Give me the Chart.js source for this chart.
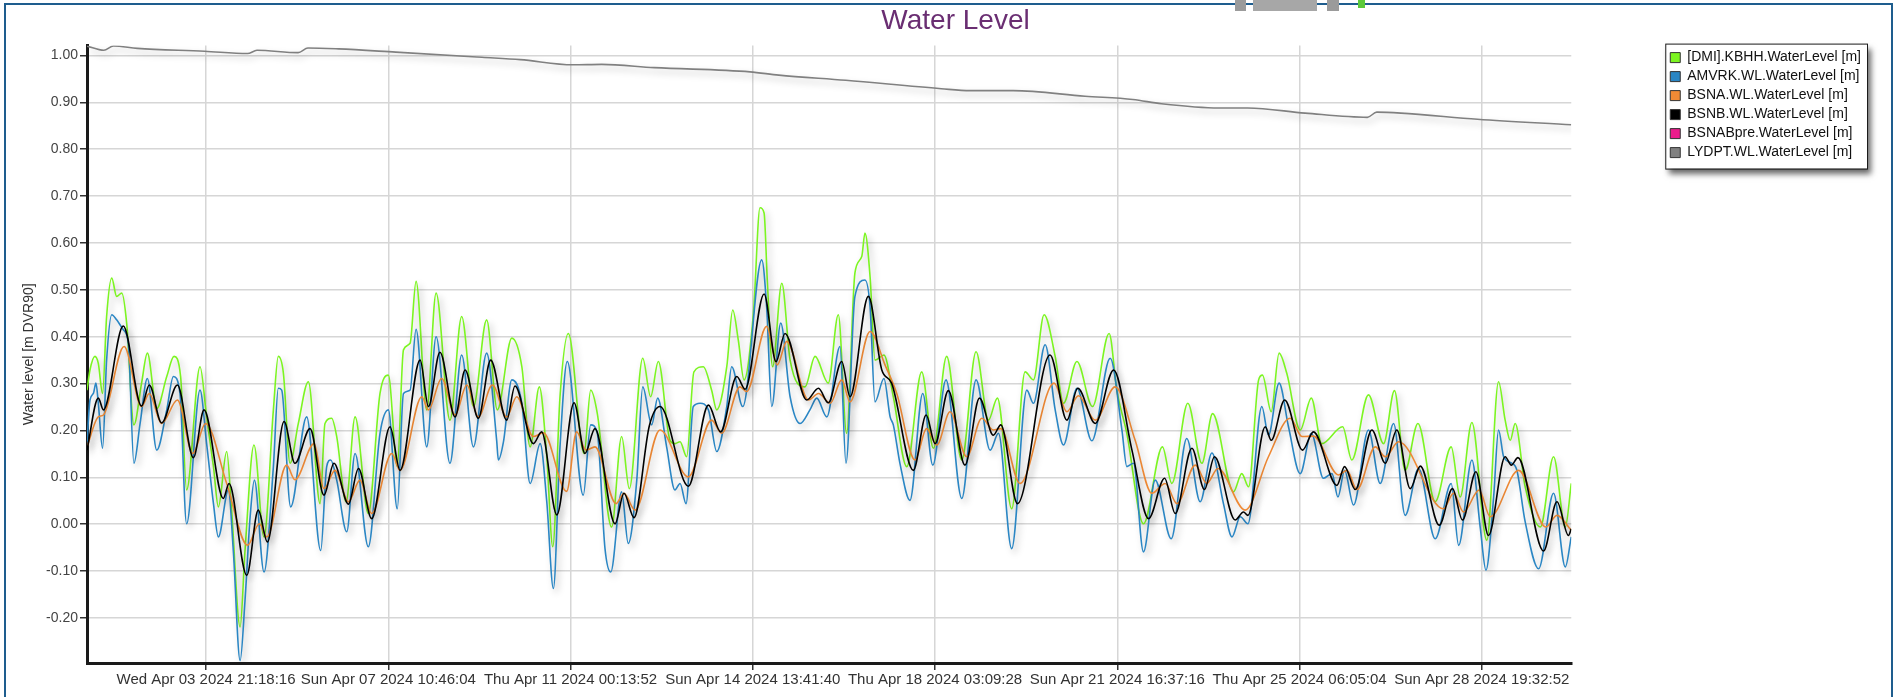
<!DOCTYPE html>
<html>
<head>
<meta charset="utf-8">
<title>Water Level</title>
<script src="https://cdn.jsdelivr.net/npm/chart.js@4.4.1/dist/chart.umd.min.js"></script>
<style>
  html, body { margin: 0; padding: 0; background: #fff; overflow: hidden; }
  #frame { position: absolute; left: 4px; top: 3px; width: 1885px; height: 720px; border: 2px solid #1e5d8e; border-bottom: none; }
  #wrap { position: absolute; left: 0; top: 0; width: 1897px; height: 697px; }
  .tab { position: absolute; top: 0; height: 11px; background: #9b9b9b; z-index: 2; }
</style>
</head>
<body>
<div id="frame"></div>
<div class="tab" style="left:1235px;width:11px"></div>
<div class="tab" style="left:1253px;width:64px;background:#a7a7a7"></div>
<div class="tab" style="left:1327px;width:12px"></div>
<div class="tab" style="left:1358px;width:7px;height:8px;background:#5cc93a"></div>
<div id="wrap"><canvas id="waterChart"></canvas></div>
<script>
// time axis: hours since 2024-04-01 00:00
const xTickHours = [69.3044, 154.7678, 240.2311, 325.6944, 411.1578, 496.6211, 582.0844, 667.5478];
const xTickLabels = [
  'Wed Apr 03 2024 21:18:16', 'Sun Apr 07 2024 10:46:04', 'Thu Apr 11 2024 00:13:52', 'Sun Apr 14 2024 13:41:40',
  'Thu Apr 18 2024 03:09:28', 'Sun Apr 21 2024 16:37:16', 'Thu Apr 25 2024 06:05:04', 'Sun Apr 28 2024 19:32:52'
];
const yTickValues = [-0.2, -0.1, 0, 0.1, 0.2, 0.3, 0.4, 0.5, 0.6, 0.7, 0.8, 0.9, 1.0];

const seriesNames = ['[DMI].KBHH.WaterLevel [m]', 'AMVRK.WL.WaterLevel [m]', 'BSNA.WL.WaterLevel [m]',
  'BSNB.WL.WaterLevel [m]', 'BSNABpre.WaterLevel [m]', 'LYDPT.WL.WaterLevel [m]'];
const seriesColors = ['#7cf521', '#2a86c4', '#f08a35', '#000000', '#ec1c8c', '#808080'];

const kbhhHours = [
  13.5, 14.9, 17.2, 18.8, 20.8, 22.7, 25.1, 27.4, 29.8, 32.1,
  35.5, 39.1, 41.8, 46.2, 50.9, 54.3, 57.4, 60.2, 66.5, 69.6,
  72.8, 75.1, 79.0, 81.3, 85.3, 87.6, 91.8, 96.5, 100.9, 103.2,
  105.6, 108.7, 112.6, 117.3, 122.8, 125.1, 128.2, 130.6, 135.0, 139.2,
  145.4, 150.9, 154.8, 159.0, 161.9, 165.0, 167.8, 172.8, 177.2, 183.7,
  189.2, 194.7, 200.9, 205.9, 212.7, 217.4, 221.3, 225.6, 229.1, 231.9,
  235.3, 239.2, 246.6, 249.7, 252.8, 259.5, 264.2, 267.8, 274.1, 277.8,
  281.4, 286.9, 289.2, 291.6, 294.7, 298.1, 302.5, 306.4, 308.8, 313.5,
  316.3, 318.9, 321.6, 326.0, 329.1, 331.0, 332.5, 335.0, 339.3, 343.2,
  350.2, 354.9, 361.1, 365.8, 369.7, 373.6, 376.8, 378.3, 380.7, 383.0,
  387.2, 391.6, 397.9, 404.9, 410.4, 416.6, 423.7, 430.4, 436.2, 440.4,
  447.1, 453.4, 457.3, 462.3, 467.5, 471.4, 477.7, 485.0, 492.8, 496.4,
  501.1, 508.9, 517.8, 522.2, 529.7, 536.3, 541.3, 551.1, 555.0, 558.2,
  562.9, 564.7, 568.8, 572.5, 576.1, 582.4, 587.6, 592.5, 602.3, 606.6,
  614.4, 621.5, 626.6, 631.6, 637.6, 645.7, 653.2, 657.4, 662.9, 669.9,
  675.4, 678.5, 680.9, 683.2, 687.9, 695.0, 701.2, 706.7, 709.5
];
const kbhhLevel = [
  0.286, 0.329, 0.358, 0.343, 0.279, 0.443, 0.525, 0.486, 0.493, 0.429,
  0.212, 0.301, 0.365, 0.247, 0.315, 0.358, 0.315, 0.073, 0.336, 0.229,
  0.123, 0.037, 0.155, 0.030, -0.219, -0.056, 0.169, -0.027, 0.244, 0.358,
  0.322, 0.130, 0.215, 0.304, 0.044, 0.215, 0.226, 0.187, 0.048, 0.229,
  0.023, 0.279, 0.318, 0.123, 0.372, 0.386, 0.518, 0.244, 0.493, 0.222,
  0.443, 0.251, 0.436, 0.244, 0.397, 0.336, 0.165, 0.293, 0.144, -0.048,
  0.272, 0.407, 0.151, 0.286, 0.236, -0.006, 0.187, 0.076, 0.354, 0.272,
  0.347, 0.179, 0.172, 0.176, 0.144, 0.325, 0.336, 0.286, 0.244, 0.336,
  0.457, 0.393, 0.308, 0.450, 0.675, 0.664, 0.521, 0.336, 0.514, 0.350,
  0.293, 0.358, 0.301, 0.447, 0.194, 0.536, 0.571, 0.621, 0.528, 0.350,
  0.361, 0.272, 0.123, 0.325, 0.162, 0.358, 0.137, 0.368, 0.222, 0.269,
  0.033, 0.325, 0.308, 0.447, 0.358, 0.258, 0.347, 0.251, 0.407, 0.286,
  0.194, 0.001, 0.165, 0.087, 0.258, 0.130, 0.236, 0.069, 0.108, 0.080,
  0.308, 0.318, 0.240, 0.365, 0.322, 0.201, 0.269, 0.172, 0.208, 0.137,
  0.276, 0.172, 0.285, 0.115, 0.215, 0.048, 0.165, 0.058, 0.217, -0.034,
  0.304, 0.222, 0.179, 0.215, 0.080, -0.006, 0.144, -0.006, 0.087
];

const amvrkHours = [
  13.5, 14.9, 16.5, 17.7, 18.8, 20.8, 22.7, 25.1, 27.4, 30.5,
  32.9, 35.5, 38.4, 41.8, 46.2, 50.9, 54.0, 57.1, 60.2, 66.5,
  69.6, 72.8, 75.1, 79.8, 82.1, 85.3, 87.6, 90.0, 92.0, 96.5,
  100.9, 103.2, 104.8, 109.0, 116.5, 123.1, 125.9, 127.8, 130.6, 135.3,
  139.2, 145.4, 150.9, 154.8, 159.0, 161.9, 165.0, 167.8, 172.8, 177.2,
  183.7, 189.2, 194.7, 200.9, 205.6, 206.4, 208.8, 212.7, 217.4, 221.3,
  226.0, 229.1, 232.2, 235.3, 238.7, 246.2, 249.7, 252.8, 256.4, 259.1,
  264.2, 267.3, 271.3, 274.1, 278.3, 281.1, 285.3, 289.2, 291.6, 294.4,
  297.8, 301.0, 304.9, 308.8, 313.5, 315.8, 321.0, 329.9, 332.2, 334.6,
  338.8, 343.2, 347.9, 352.5, 355.7, 360.4, 366.6, 369.4, 373.6, 378.3,
  380.7, 383.0, 387.2, 390.1, 391.6, 394.7, 399.4, 405.4, 410.1, 416.3,
  423.7, 430.4, 437.0, 440.9, 447.1, 454.2, 457.3, 462.8, 467.5, 471.4,
  477.7, 484.7, 493.3, 498.8, 501.1, 504.2, 508.9, 514.4, 521.9, 529.2,
  535.5, 541.0, 546.4, 550.4, 554.3, 557.9, 564.4, 567.5, 572.5, 576.9,
  582.4, 587.6, 593.3, 597.3, 600.1, 603.2, 607.4, 614.4, 619.9, 626.2,
  631.6, 637.9, 645.7, 653.2, 656.7, 662.9, 666.8, 669.5, 673.1, 675.4,
  677.8, 681.7, 684.0, 687.9, 694.2, 701.2, 706.7, 709.5
];
const amvrkLevel = [
  0.172, 0.265, 0.279, 0.301, 0.258, 0.162, 0.350, 0.447, 0.436, 0.415,
  0.386, 0.130, 0.215, 0.311, 0.158, 0.244, 0.315, 0.279, 0.001, 0.286,
  0.172, 0.044, -0.027, 0.073, -0.056, -0.291, -0.162, 0.016, 0.094, -0.102,
  0.123, 0.290, 0.286, 0.037, 0.229, -0.056, 0.123, 0.137, 0.094, -0.016,
  0.151, -0.048, 0.194, 0.244, 0.033, 0.279, 0.286, 0.416, 0.165, 0.400,
  0.130, 0.361, 0.165, 0.365, 0.179, 0.137, 0.176, 0.308, 0.258, 0.087,
  0.172, 0.048, -0.137, 0.165, 0.347, 0.062, 0.212, 0.194, -0.052, -0.102,
  0.069, -0.041, 0.094, 0.293, 0.212, 0.269, 0.165, 0.073, 0.087, 0.044,
  0.251, 0.258, 0.244, 0.155, 0.251, 0.336, 0.251, 0.564, 0.464, 0.251,
  0.429, 0.272, 0.215, 0.244, 0.269, 0.229, 0.379, 0.130, 0.486, 0.521,
  0.464, 0.261, 0.311, 0.229, 0.212, 0.130, 0.051, 0.279, 0.126, 0.308,
  0.055, 0.308, 0.158, 0.194, -0.052, 0.286, 0.258, 0.383, 0.244, 0.169,
  0.290, 0.178, 0.354, 0.201, 0.123, 0.130, -0.059, 0.094, -0.031, 0.183,
  0.048, 0.152, 0.044, -0.027, 0.016, 0.001, 0.251, 0.190, 0.301, 0.208,
  0.108, 0.194, 0.098, 0.108, 0.058, 0.115, 0.041, 0.201, 0.087, 0.215,
  0.019, 0.119, -0.031, 0.087, -0.045, 0.137, -0.006, -0.098, 0.058, 0.201,
  0.144, 0.130, 0.115, 0.005, -0.095, 0.066, -0.091, -0.027
];

const bsnaHours = [
  13.5, 18.8, 21.2, 30.9, 39.1, 42.7, 48.5, 55.9, 63.1, 69.1,
  79.0, 88.8, 94.3, 97.8, 107.1, 111.0, 120.0, 124.6, 129.8, 136.1,
  141.5, 147.0, 156.4, 160.3, 170.5, 173.6, 179.8, 186.1, 191.6, 197.0,
  203.6, 210.3, 215.0, 222.8, 227.5, 238.4, 243.1, 247.5, 251.7, 261.6,
  265.3, 270.5, 282.2, 295.5, 306.4, 311.1, 319.7, 322.8, 332.2, 337.2,
  341.6, 351.8, 356.5, 362.0, 367.4, 371.3, 380.7, 387.7, 393.2, 401.8,
  407.2, 412.0, 418.2, 426.0, 433.1, 438.5, 442.0, 451.0, 467.0, 473.0,
  478.4, 486.3, 495.6, 505.0, 512.8, 519.1, 524.6, 533.2, 538.6, 543.8,
  556.6, 567.5, 577.7, 583.2, 588.6, 600.4, 604.3, 609.0, 617.6, 622.3,
  628.5, 649.6, 654.3, 659.0, 666.3, 671.5, 684.8, 697.6, 702.8, 709.5
];
const bsnaLevel = [
  0.165, 0.229, 0.233, 0.379, 0.251, 0.279, 0.215, 0.265, 0.151, 0.215,
  0.087, -0.045, 0.001, -0.027, 0.126, 0.095, 0.172, 0.076, 0.115, 0.048,
  0.094, 0.023, 0.151, 0.115, 0.272, 0.244, 0.311, 0.233, 0.297, 0.229,
  0.297, 0.229, 0.272, 0.187, 0.195, 0.070, 0.197, 0.158, 0.165, 0.044,
  0.066, 0.030, 0.201, 0.101, 0.222, 0.194, 0.293, 0.283, 0.422, 0.340,
  0.390, 0.265, 0.279, 0.258, 0.308, 0.261, 0.411, 0.340, 0.279, 0.137,
  0.204, 0.169, 0.240, 0.144, 0.226, 0.201, 0.204, 0.087, 0.301, 0.240,
  0.274, 0.222, 0.293, 0.179, 0.066, 0.087, 0.044, 0.126, 0.087, 0.119,
  0.030, 0.144, 0.226, 0.187, 0.188, 0.105, 0.115, 0.074, 0.165, 0.144,
  0.176, 0.033, 0.066, 0.026, 0.073, 0.016, 0.115, -0.006, 0.019, -0.013
];

const bsnbHours = [
  13.5, 18.8, 21.2, 30.5, 39.1, 42.7, 48.5, 55.9, 63.4, 68.4,
  77.4, 80.1, 88.4, 93.8, 98.1, 105.9, 111.0, 118.1, 124.6, 129.3,
  136.1, 140.8, 147.0, 155.6, 160.3, 169.7, 173.6, 179.0, 186.1, 190.8,
  197.0, 202.8, 210.3, 214.2, 222.8, 226.7, 233.8, 241.9, 247.0, 251.7,
  261.1, 265.3, 270.0, 277.2, 282.2, 295.5, 304.9, 310.6, 318.2, 322.1,
  331.0, 336.6, 340.8, 351.0, 356.5, 361.1, 367.4, 371.3, 379.9, 386.2,
  390.8, 401.0, 407.0, 411.2, 417.4, 425.2, 432.0, 438.5, 442.0, 449.8,
  465.1, 473.0, 478.1, 486.3, 494.9, 503.5, 511.3, 518.8, 523.8, 531.6,
  537.5, 542.2, 551.9, 555.8, 557.9, 566.0, 568.8, 575.1, 583.5, 588.6,
  599.6, 603.2, 608.2, 616.0, 622.3, 627.7, 634.0, 638.7, 647.6, 653.8,
  658.5, 664.8, 670.7, 678.5, 681.4, 684.5, 696.5, 702.8, 708.2, 709.5
];
const bsnbLevel = [
  0.158, 0.269, 0.244, 0.423, 0.252, 0.297, 0.216, 0.297, 0.142, 0.244,
  0.055, 0.087, -0.109, 0.030, -0.038, 0.219, 0.130, 0.204, 0.062, 0.130,
  0.043, 0.119, 0.012, 0.208, 0.115, 0.350, 0.251, 0.367, 0.229, 0.329,
  0.226, 0.350, 0.222, 0.295, 0.172, 0.197, 0.020, 0.259, 0.151, 0.204,
  0.001, 0.066, 0.014, 0.210, 0.251, 0.081, 0.254, 0.197, 0.315, 0.288,
  0.491, 0.347, 0.407, 0.265, 0.290, 0.259, 0.347, 0.272, 0.486, 0.329,
  0.301, 0.115, 0.233, 0.172, 0.285, 0.126, 0.269, 0.190, 0.212, 0.044,
  0.361, 0.222, 0.290, 0.215, 0.329, 0.158, 0.012, 0.098, 0.023, 0.162,
  0.074, 0.144, 0.009, 0.026, 0.019, 0.208, 0.179, 0.265, 0.158, 0.197,
  0.083, 0.123, 0.074, 0.201, 0.130, 0.201, 0.076, 0.124, -0.002, 0.076,
  0.009, 0.112, -0.024, 0.144, 0.126, 0.142, -0.057, 0.048, -0.024, -0.010
];

const lydptHours = [
  13.5, 21.4, 25.9, 37.1, 68.6, 88.8, 93.2, 112.5, 117.1, 131.4,
  158.3, 198.7, 216.7, 241.3, 254.8, 279.5, 324.4, 337.9, 369.3, 414.1,
  427.6, 447.8, 481.5, 503.9, 517.3, 544.3, 557.8, 584.7, 613.9, 618.3,
  629.6, 665.5, 709.5
];
const lydptLevel = [
  1.020, 1.011, 1.020, 1.015, 1.009, 1.004, 1.011, 1.006, 1.016, 1.014,
  1.007, 0.996, 0.991, 0.980, 0.981, 0.974, 0.965, 0.958, 0.947, 0.929,
  0.925, 0.925, 0.913, 0.906, 0.897, 0.888, 0.888, 0.877, 0.868, 0.879,
  0.877, 0.864, 0.852
];

const FONT = 'Liberation Sans, Arial, Helvetica, sans-serif';
Chart.defaults.font.family = FONT;

const toPoints = (hours, levels) => hours.map((h, i) => ({ x: h, y: levels[i] }));

const lineSet = (idx, hours, levels, drawOrder) => ({
  label: seriesNames[idx],
  data: hours ? toPoints(hours, levels) : [],
  borderColor: seriesColors[idx],
  backgroundColor: seriesColors[idx],
  borderWidth: 1.6,
  pointRadius: 0,
  fill: false,
  cubicInterpolationMode: 'monotone',
  order: drawOrder
});

// soft drop shadow under every series, like the original
const lineShadow = {
  id: 'lineShadow',
  beforeDatasetDraw(chart) {
    const ctx = chart.ctx;
    ctx.save();
    ctx.shadowColor = 'rgba(0,0,0,0.28)';
    ctx.shadowBlur = 7;
    ctx.shadowOffsetX = 3;
    ctx.shadowOffsetY = 4;
  },
  afterDatasetDraw(chart) {
    chart.ctx.restore();
  }
};

// framed legend box with shadow
const legendFrame = {
  id: 'legendFrame',
  beforeDraw(chart) {
    const boxes = chart.legend && chart.legend.legendHitBoxes;
    if (!boxes || !boxes.length) return;
    const left = Math.min(...boxes.map(b => b.left)) - 5;
    const right = Math.max(...boxes.map(b => b.left + b.width)) + 6;
    const last = boxes[boxes.length - 1];
    const top = boxes[0].top - 7;
    const bottom = last.top + last.height + 9;
    const ctx = chart.ctx;
    ctx.save();
    ctx.shadowColor = 'rgba(0,0,0,0.6)';
    ctx.shadowBlur = 6;
    ctx.shadowOffsetX = 4;
    ctx.shadowOffsetY = 5;
    ctx.fillStyle = '#fff';
    ctx.fillRect(left, top, right - left, bottom - top);
    ctx.restore();
    ctx.save();
    ctx.strokeStyle = '#1a1a1a';
    ctx.lineWidth = 1;
    ctx.strokeRect(left + 0.5, top + 0.5, right - left, bottom - top);
    ctx.restore();
  }
};

const gridStyle = { color: '#d6d6d6', lineWidth: 1.5, tickLength: 7, tickColor: '#333', tickWidth: 1.5 };

new Chart(document.getElementById('waterChart'), {
  type: 'line',
  data: {
    datasets: [
      lineSet(0, kbhhHours, kbhhLevel, 4),
      lineSet(1, amvrkHours, amvrkLevel, 3),
      lineSet(2, bsnaHours, bsnaLevel, 2),
      lineSet(3, bsnbHours, bsnbLevel, 1),
      lineSet(4, null, null, 5),
      lineSet(5, lydptHours, lydptLevel, 0)
    ]
  },
  options: {
    responsive: true,
    maintainAspectRatio: false,
    animation: false,
    // wider left padding nudges the title right like the original; the y axis width is set in afterFit
    layout: { padding: { left: 40, right: 26, top: 0, bottom: 0 } },
    plugins: {
      title: {
        display: true,
        text: 'Water Level',
        color: '#6a2e72',
        font: { size: 28, weight: 'normal' },
        padding: { top: 4, bottom: 8 }
      },
      legend: {
        position: 'right',
        align: 'start',
        fullSize: false,
        labels: {
          boxWidth: 10,
          boxHeight: 10,
          padding: 5,
          color: '#111',
          font: { size: 14 },
          sort: (a, b) => a.datasetIndex - b.datasetIndex,
          generateLabels: chart => Chart.defaults.plugins.legend.labels.generateLabels(chart)
            .map(item => Object.assign(item, { strokeStyle: '#333', lineWidth: 1 }))
        }
      },
      tooltip: { enabled: false }
    },
    scales: {
      x: {
        type: 'linear',
        min: 13.5,
        max: 709.5,
        afterBuildTicks: scale => { scale.ticks = xTickHours.map(v => ({ value: v })); },
        afterFit: scale => { scale.height = 34; },
        ticks: {
          autoSkip: false,
          maxRotation: 0,
          padding: 1,
          color: '#333',
          font: { size: 15 },
          callback: value => xTickLabels[xTickHours.indexOf(value)]
        },
        grid: gridStyle,
        border: { color: '#1a1a1a', width: 3 }
      },
      y: {
        min: -0.296,
        max: 1.021,
        afterBuildTicks: scale => { scale.ticks = yTickValues.map(v => ({ value: v })); },
        afterFit: scale => { scale.width = 47; },
        ticks: {
          padding: 2,
          color: '#444',
          font: { size: 14 },
          callback: value => value.toFixed(2)
        },
        title: {
          display: true,
          text: 'Water level [m DVR90]',
          color: '#333',
          font: { size: 14 },
          padding: { top: -19, bottom: 0 }
        },
        grid: gridStyle,
        border: { color: '#1a1a1a', width: 3 }
      },
      gap: {
        position: 'right',
        grid: { display: false },
        ticks: { display: false },
        border: { display: false },
        afterFit: scale => { scale.width = 94; }
      }
    }
  },
  plugins: [lineShadow, legendFrame]
});
</script>
</body>
</html>
